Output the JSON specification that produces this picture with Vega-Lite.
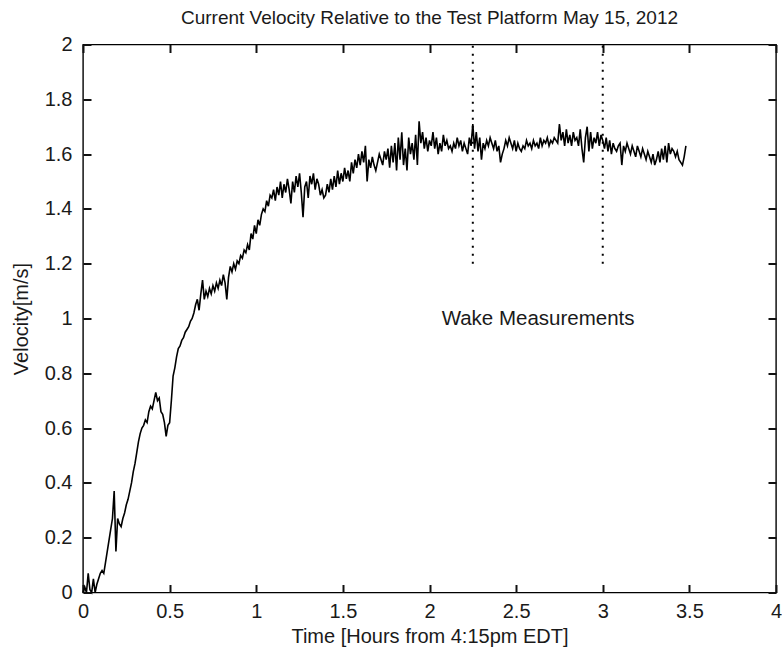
{
  "$schema": "https://vega.github.io/schema/vega-lite/v6.json",
  "autosize": "none",
  "width": 693,
  "height": 548,
  "padding": {"left": 83, "top": 44.5, "right": 6, "bottom": 55},
  "background": "white",
  "config": {
    "view": {"stroke": "#000000", "strokeWidth": 1.4},
    "font": "Liberation Sans",
    "axis": {
      "grid": false,
      "domain": false,
      "ticks": true,
      "tickColor": "#111111",
      "tickOpacity": 1,
      "tickWidth": 2,
      "tickSize": 8,
      "format": "~g",
      "labelColor": "#1a1a1a",
      "labelFont": "Liberation Sans",
      "labelFontSize": 20,
      "titleFont": "Liberation Sans",
      "titleFontSize": 20,
      "titleFontWeight": "normal",
      "titleColor": "#1a1a1a"
    }
  },
  "title": {
    "text": "Current Velocity Relative to the Test Platform May 15, 2012",
    "font": "Liberation Sans",
    "fontSize": 19,
    "fontWeight": "normal",
    "color": "#1a1a1a",
    "anchor": "middle",
    "offset": 7
  },
  "datasets": {
    "velocity": [
      {"t":0.00,"v":0.00},{"t":0.01,"v":0.02},{"t":0.02,"v":0.00},{"t":0.03,"v":0.07},{"t":0.04,"v":0.01},{"t":0.05,"v":0.00},{"t":0.06,"v":0.05},{"t":0.07,"v":0.00},{"t":0.08,"v":0.03},{"t":0.09,"v":0.05},
      {"t":0.10,"v":0.07},{"t":0.11,"v":0.08},{"t":0.12,"v":0.07},{"t":0.13,"v":0.11},{"t":0.14,"v":0.15},{"t":0.15,"v":0.19},{"t":0.16,"v":0.23},{"t":0.17,"v":0.27},{"t":0.18,"v":0.37},{"t":0.19,"v":0.15},
      {"t":0.20,"v":0.27},{"t":0.21,"v":0.25},{"t":0.22,"v":0.24},{"t":0.23,"v":0.27},{"t":0.24,"v":0.29},{"t":0.25,"v":0.32},{"t":0.26,"v":0.34},{"t":0.27,"v":0.37},{"t":0.28,"v":0.40},{"t":0.29,"v":0.44},
      {"t":0.30,"v":0.47},{"t":0.31,"v":0.51},{"t":0.32,"v":0.55},{"t":0.33,"v":0.58},{"t":0.34,"v":0.60},{"t":0.35,"v":0.61},{"t":0.36,"v":0.63},{"t":0.37,"v":0.62},{"t":0.38,"v":0.66},{"t":0.39,"v":0.68},
      {"t":0.40,"v":0.67},{"t":0.41,"v":0.70},{"t":0.42,"v":0.73},{"t":0.43,"v":0.70},{"t":0.44,"v":0.71},{"t":0.45,"v":0.66},{"t":0.46,"v":0.65},{"t":0.47,"v":0.62},{"t":0.48,"v":0.57},{"t":0.49,"v":0.61},
      {"t":0.50,"v":0.62},{"t":0.51,"v":0.70},{"t":0.52,"v":0.79},{"t":0.53,"v":0.82},{"t":0.54,"v":0.86},{"t":0.55,"v":0.89},{"t":0.56,"v":0.90},{"t":0.57,"v":0.92},{"t":0.58,"v":0.93},{"t":0.59,"v":0.95},
      {"t":0.60,"v":0.96},{"t":0.61,"v":0.97},{"t":0.62,"v":0.99},{"t":0.63,"v":1.00},{"t":0.64,"v":1.02},{"t":0.65,"v":1.05},{"t":0.66,"v":1.07},{"t":0.67,"v":1.03},{"t":0.68,"v":1.09},{"t":0.69,"v":1.14},
      {"t":0.70,"v":1.07},{"t":0.71,"v":1.10},{"t":0.72,"v":1.08},{"t":0.73,"v":1.11},{"t":0.74,"v":1.09},{"t":0.75,"v":1.12},{"t":0.76,"v":1.10},{"t":0.77,"v":1.13},{"t":0.78,"v":1.11},{"t":0.79,"v":1.14},
      {"t":0.80,"v":1.12},{"t":0.81,"v":1.16},{"t":0.82,"v":1.13},{"t":0.83,"v":1.07},{"t":0.84,"v":1.15},{"t":0.85,"v":1.19},{"t":0.86,"v":1.17},{"t":0.87,"v":1.20},{"t":0.88,"v":1.18},{"t":0.89,"v":1.21},
      {"t":0.90,"v":1.20},{"t":0.91,"v":1.23},{"t":0.92,"v":1.22},{"t":0.93,"v":1.25},{"t":0.94,"v":1.24},{"t":0.95,"v":1.27},{"t":0.96,"v":1.25},{"t":0.97,"v":1.31},{"t":0.98,"v":1.29},{"t":0.99,"v":1.34},
      {"t":1.00,"v":1.31},{"t":1.01,"v":1.36},{"t":1.02,"v":1.34},{"t":1.03,"v":1.38},{"t":1.04,"v":1.40},{"t":1.05,"v":1.39},{"t":1.06,"v":1.43},{"t":1.07,"v":1.41},{"t":1.08,"v":1.45},{"t":1.09,"v":1.44},
      {"t":1.10,"v":1.47},{"t":1.11,"v":1.43},{"t":1.12,"v":1.48},{"t":1.13,"v":1.45},{"t":1.14,"v":1.50},{"t":1.15,"v":1.44},{"t":1.16,"v":1.49},{"t":1.17,"v":1.46},{"t":1.18,"v":1.51},{"t":1.19,"v":1.47},
      {"t":1.20,"v":1.42},{"t":1.21,"v":1.50},{"t":1.22,"v":1.46},{"t":1.23,"v":1.52},{"t":1.24,"v":1.48},{"t":1.25,"v":1.53},{"t":1.26,"v":1.46},{"t":1.27,"v":1.37},{"t":1.28,"v":1.48},{"t":1.29,"v":1.50},
      {"t":1.30,"v":1.44},{"t":1.31,"v":1.52},{"t":1.32,"v":1.49},{"t":1.33,"v":1.53},{"t":1.34,"v":1.47},{"t":1.35,"v":1.51},{"t":1.36,"v":1.49},{"t":1.37,"v":1.45},{"t":1.38,"v":1.47},{"t":1.39,"v":1.44},
      {"t":1.40,"v":1.45},{"t":1.41,"v":1.49},{"t":1.42,"v":1.46},{"t":1.43,"v":1.51},{"t":1.44,"v":1.47},{"t":1.45,"v":1.52},{"t":1.46,"v":1.48},{"t":1.47,"v":1.54},{"t":1.48,"v":1.49},{"t":1.49,"v":1.53},
      {"t":1.50,"v":1.50},{"t":1.51,"v":1.55},{"t":1.52,"v":1.51},{"t":1.53,"v":1.54},{"t":1.54,"v":1.50},{"t":1.55,"v":1.57},{"t":1.56,"v":1.53},{"t":1.57,"v":1.58},{"t":1.58,"v":1.55},{"t":1.59,"v":1.60},
      {"t":1.60,"v":1.56},{"t":1.61,"v":1.61},{"t":1.62,"v":1.57},{"t":1.63,"v":1.63},{"t":1.64,"v":1.50},{"t":1.65,"v":1.58},{"t":1.66,"v":1.55},{"t":1.67,"v":1.59},{"t":1.68,"v":1.56},{"t":1.69,"v":1.54},
      {"t":1.70,"v":1.57},{"t":1.71,"v":1.60},{"t":1.72,"v":1.58},{"t":1.73,"v":1.56},{"t":1.74,"v":1.61},{"t":1.75,"v":1.58},{"t":1.76,"v":1.62},{"t":1.77,"v":1.55},{"t":1.78,"v":1.63},{"t":1.79,"v":1.57},
      {"t":1.80,"v":1.64},{"t":1.81,"v":1.54},{"t":1.82,"v":1.66},{"t":1.83,"v":1.58},{"t":1.84,"v":1.68},{"t":1.85,"v":1.56},{"t":1.86,"v":1.62},{"t":1.87,"v":1.54},{"t":1.88,"v":1.66},{"t":1.89,"v":1.60},
      {"t":1.90,"v":1.64},{"t":1.91,"v":1.58},{"t":1.92,"v":1.67},{"t":1.93,"v":1.56},{"t":1.94,"v":1.72},{"t":1.95,"v":1.64},{"t":1.96,"v":1.68},{"t":1.97,"v":1.62},{"t":1.98,"v":1.66},{"t":1.99,"v":1.61},
      {"t":2.00,"v":1.65},{"t":2.01,"v":1.63},{"t":2.02,"v":1.68},{"t":2.03,"v":1.62},{"t":2.04,"v":1.66},{"t":2.05,"v":1.60},{"t":2.06,"v":1.64},{"t":2.07,"v":1.61},{"t":2.08,"v":1.67},{"t":2.09,"v":1.63},
      {"t":2.10,"v":1.65},{"t":2.11,"v":1.62},{"t":2.12,"v":1.63},{"t":2.13,"v":1.61},{"t":2.14,"v":1.64},{"t":2.15,"v":1.62},{"t":2.16,"v":1.66},{"t":2.17,"v":1.63},{"t":2.18,"v":1.65},{"t":2.19,"v":1.61},
      {"t":2.20,"v":1.64},{"t":2.21,"v":1.62},{"t":2.22,"v":1.60},{"t":2.23,"v":1.66},{"t":2.24,"v":1.63},{"t":2.25,"v":1.71},{"t":2.26,"v":1.62},{"t":2.27,"v":1.68},{"t":2.28,"v":1.61},{"t":2.29,"v":1.66},
      {"t":2.30,"v":1.58},{"t":2.31,"v":1.64},{"t":2.32,"v":1.62},{"t":2.33,"v":1.65},{"t":2.34,"v":1.63},{"t":2.35,"v":1.66},{"t":2.36,"v":1.64},{"t":2.37,"v":1.62},{"t":2.38,"v":1.65},{"t":2.39,"v":1.61},
      {"t":2.40,"v":1.63},{"t":2.41,"v":1.57},{"t":2.42,"v":1.60},{"t":2.43,"v":1.62},{"t":2.44,"v":1.65},{"t":2.45,"v":1.63},{"t":2.46,"v":1.66},{"t":2.47,"v":1.64},{"t":2.48,"v":1.62},{"t":2.49,"v":1.65},
      {"t":2.50,"v":1.61},{"t":2.51,"v":1.64},{"t":2.52,"v":1.62},{"t":2.53,"v":1.61},{"t":2.54,"v":1.63},{"t":2.55,"v":1.62},{"t":2.56,"v":1.65},{"t":2.57,"v":1.63},{"t":2.58,"v":1.64},{"t":2.59,"v":1.62},
      {"t":2.60,"v":1.65},{"t":2.61,"v":1.63},{"t":2.62,"v":1.64},{"t":2.63,"v":1.62},{"t":2.64,"v":1.66},{"t":2.65,"v":1.63},{"t":2.66,"v":1.65},{"t":2.67,"v":1.64},{"t":2.68,"v":1.66},{"t":2.69,"v":1.63},
      {"t":2.70,"v":1.65},{"t":2.71,"v":1.64},{"t":2.72,"v":1.66},{"t":2.73,"v":1.65},{"t":2.74,"v":1.64},{"t":2.75,"v":1.71},{"t":2.76,"v":1.65},{"t":2.77,"v":1.68},{"t":2.78,"v":1.63},{"t":2.79,"v":1.69},
      {"t":2.80,"v":1.64},{"t":2.81,"v":1.67},{"t":2.82,"v":1.63},{"t":2.83,"v":1.68},{"t":2.84,"v":1.65},{"t":2.85,"v":1.66},{"t":2.86,"v":1.63},{"t":2.87,"v":1.69},{"t":2.88,"v":1.62},{"t":2.89,"v":1.57},
      {"t":2.90,"v":1.66},{"t":2.91,"v":1.70},{"t":2.92,"v":1.61},{"t":2.93,"v":1.68},{"t":2.94,"v":1.62},{"t":2.95,"v":1.66},{"t":2.96,"v":1.64},{"t":2.97,"v":1.68},{"t":2.98,"v":1.63},{"t":2.99,"v":1.67},
      {"t":3.00,"v":1.65},{"t":3.01,"v":1.62},{"t":3.02,"v":1.66},{"t":3.03,"v":1.61},{"t":3.04,"v":1.65},{"t":3.05,"v":1.60},{"t":3.06,"v":1.64},{"t":3.07,"v":1.62},{"t":3.08,"v":1.61},{"t":3.09,"v":1.63},
      {"t":3.10,"v":1.64},{"t":3.11,"v":1.56},{"t":3.12,"v":1.63},{"t":3.13,"v":1.61},{"t":3.14,"v":1.64},{"t":3.15,"v":1.62},{"t":3.16,"v":1.60},{"t":3.17,"v":1.63},{"t":3.18,"v":1.61},{"t":3.19,"v":1.59},
      {"t":3.20,"v":1.63},{"t":3.21,"v":1.61},{"t":3.22,"v":1.59},{"t":3.23,"v":1.62},{"t":3.24,"v":1.60},{"t":3.25,"v":1.58},{"t":3.26,"v":1.61},{"t":3.27,"v":1.59},{"t":3.28,"v":1.57},{"t":3.29,"v":1.60},
      {"t":3.30,"v":1.56},{"t":3.31,"v":1.58},{"t":3.32,"v":1.61},{"t":3.33,"v":1.57},{"t":3.34,"v":1.62},{"t":3.35,"v":1.58},{"t":3.36,"v":1.63},{"t":3.37,"v":1.57},{"t":3.38,"v":1.64},{"t":3.39,"v":1.60},
      {"t":3.40,"v":1.62},{"t":3.41,"v":1.61},{"t":3.42,"v":1.59},{"t":3.43,"v":1.61},{"t":3.44,"v":1.58},{"t":3.45,"v":1.57},{"t":3.46,"v":1.56},{"t":3.47,"v":1.59},{"t":3.48,"v":1.63}
    ],
    "markers": [
      {"t": 2.25, "v1": 1.2, "v2": 2.0},
      {"t": 3.0, "v1": 1.2, "v2": 2.0}
    ],
    "labels": [
      {"t": 2.07, "v": 1.0, "label": "Wake Measurements"}
    ]
  },
  "layer": [
    {
      "data": {"name": "velocity"},
      "mark": {"type": "line", "color": "#000000", "strokeWidth": 1.6, "interpolate": "linear"},
      "encoding": {
        "x": {
          "field": "t", "type": "quantitative",
          "scale": {"domain": [0, 4], "nice": false, "zero": false},
          "axis": {"orient": "bottom", "offset": -8, "values": [0, 0.5, 1, 1.5, 2, 2.5, 3, 3.5, 4], "title": "Time [Hours from 4:15pm EDT]", "labelPadding": 9, "titlePadding": 5, "labelFlush": false}
        },
        "y": {
          "field": "v", "type": "quantitative",
          "scale": {"domain": [0, 2], "nice": false, "zero": false},
          "axis": {"orient": "left", "offset": -8, "values": [0, 0.2, 0.4, 0.6, 0.8, 1, 1.2, 1.4, 1.6, 1.8, 2], "title": "Velocity[m/s]", "labelPadding": 11, "titlePadding": 13, "labelFlush": false}
        }
      }
    },
    {
      "data": {"name": "markers"},
      "mark": {"type": "rule", "color": "#000000", "strokeWidth": 2, "strokeDash": [2, 6]},
      "encoding": {
        "x": {
          "field": "t", "type": "quantitative",
          "axis": {"orient": "top", "offset": -8, "values": [0, 0.5, 1, 1.5, 2, 2.5, 3, 3.5, 4], "labels": false, "title": null}
        },
        "y": {
          "field": "v1", "type": "quantitative",
          "axis": {"orient": "right", "offset": -8, "values": [0, 0.2, 0.4, 0.6, 0.8, 1, 1.2, 1.4, 1.6, 1.8, 2], "labels": false, "title": null}
        },
        "y2": {"field": "v2"}
      }
    },
    {
      "data": {"name": "labels"},
      "mark": {"type": "text", "align": "left", "baseline": "middle", "font": "Liberation Sans", "fontSize": 20.5, "color": "#1a1a1a"},
      "encoding": {
        "x": {"field": "t", "type": "quantitative", "axis": null},
        "y": {"field": "v", "type": "quantitative", "axis": null},
        "text": {"field": "label"}
      }
    }
  ],
  "resolve": {"axis": {"x": "independent", "y": "independent"}}
}
